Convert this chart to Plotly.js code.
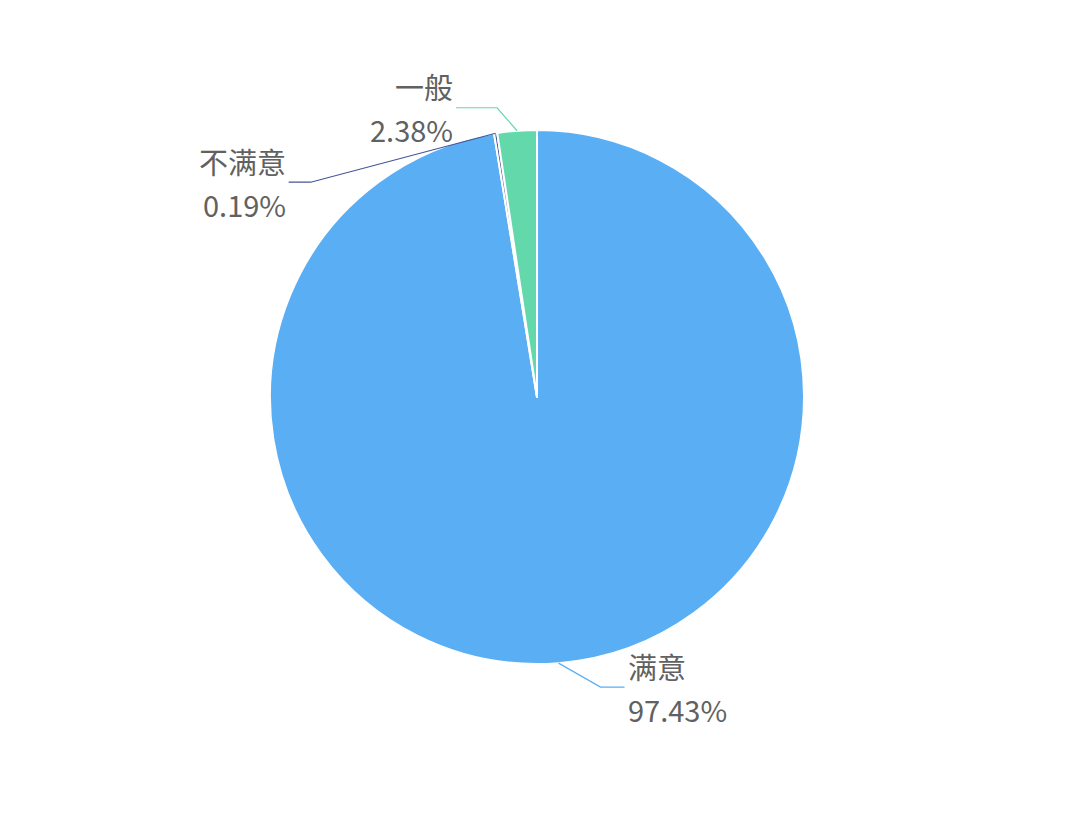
<!DOCTYPE html>
<html>
<head>
<meta charset="utf-8">
<script src="https://cdn.plot.ly/plotly-3.0.1.min.js"></script>
<style>
  html, body { margin: 0; padding: 0; background: #fff; }
  #chart { width: 1080px; height: 813px; }
</style>
</head>
<body>
<div id="chart"></div>
<script>
// survey result
var names = ['满意', '不满意', '一般'];
var shares = [97.43, 0.19, 2.38];
var colors = ['#5AAEF3', '#44549A', '#62D8AB'];

// label leader lines: elbow offset from slice edge, then horizontal run (px)
var leaders = [
  {dx: 42, dy: 24, run: 24},
  {dx: -185, dy: 49, run: -22},
  {dx: -20, dy: -23, run: -41}
];

var W = 1080, H = 813;
var cx = 537, cy = 397, r = 267;

function px(x) { return x / W; }
function py(y) { return 1 - y / H; }

var labelFont = {family: '"Noto Sans CJK SC", "Noto Sans", sans-serif', size: 29, color: '#616161'};

var total = shares.reduce(function (a, b) { return a + b; }, 0);
var shapes = [];
var annotations = [];
var acc = 0;
for (var i = 0; i < shares.length; i++) {
  var mid = (acc + shares[i] / 2) / total * 2 * Math.PI;
  acc += shares[i];
  var x0 = cx + r * Math.sin(mid);
  var y0 = cy - r * Math.cos(mid);
  var x1 = x0 + leaders[i].dx;
  var y1 = y0 + leaders[i].dy;
  var x2 = x1 + leaders[i].run;
  shapes.push({
    type: 'path',
    xref: 'paper', yref: 'paper',
    path: 'M ' + px(x0) + ' ' + py(y0) + ' L ' + px(x1) + ' ' + py(y1) + ' L ' + px(x2) + ' ' + py(y1),
    line: {color: colors[i], width: 1.2}
  });
  var right = leaders[i].run < 0;
  var base = {
    xref: 'paper', yref: 'paper',
    x: px(x2 + (right ? -3 : 3)),
    xanchor: right ? 'right' : 'left',
    align: right ? 'right' : 'left',
    showarrow: false,
    borderpad: 0,
    borderwidth: 0,
    font: labelFont
  };
  annotations.push(Object.assign({}, base, {
    y: py(y1 - 0.5), yanchor: 'bottom', text: names[i]
  }));
  annotations.push(Object.assign({}, base, {
    y: py(y1 + 0.5), yanchor: 'top', text: shares[i].toFixed(2) + '%'
  }));
}

var trace = {
  type: 'pie',
  labels: names,
  values: shares,
  sort: false,
  direction: 'clockwise',
  rotation: 0,
  textinfo: 'none',
  hoverinfo: 'label+percent',
  marker: {colors: colors, line: {color: '#ffffff', width: 2}},
  domain: {x: [px(cx - r), px(cx + r)], y: [py(cy + r), py(cy - r)]}
};

var layout = {
  width: W,
  height: H,
  margin: {l: 0, r: 0, t: 0, b: 0},
  showlegend: false,
  paper_bgcolor: '#ffffff',
  shapes: shapes,
  annotations: annotations
};

Plotly.newPlot('chart', [trace], layout, {displaylogo: false, displayModeBar: false});
</script>
</body>
</html>
